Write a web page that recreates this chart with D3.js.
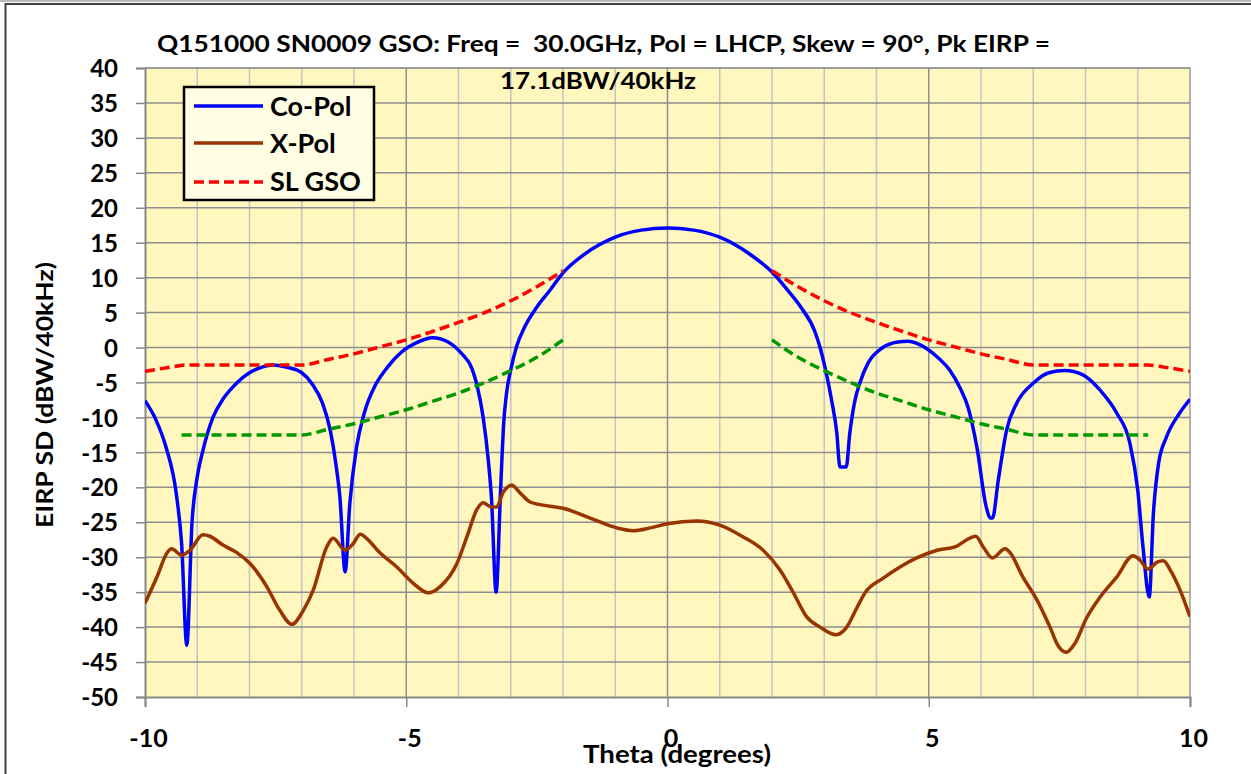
<!DOCTYPE html>
<html>
<head>
<meta charset="utf-8">
<script src="https://cdn.jsdelivr.net/npm/d3@7"></script>
<style>
  html, body { margin: 0; padding: 0; background: #ffffff; }
  svg { display: block; }
  text { font-family: Lato, "Open Sans", "DejaVu Sans", sans-serif; font-weight: bold; fill: #000; }
</style>
</head>
<body>
<svg id="chart" width="1251" height="774"></svg>
<script>
// ---------------- DATA ----------------
const titleLine1 = "Q151000 SN0009 GSO: Freq =  30.0GHz, Pol = LHCP, Skew = 90°, Pk EIRP =";
const titleLine2 = "17.1dBW/40kHz";
const xAxisTitle = "Theta (degrees)";
const yAxisTitle = "EIRP SD (dBW/40kHz)";
const seriesNames = ["Co-Pol", "X-Pol", "SL GSO"];

const xTicks = [-10, -5, 0, 5, 10];
const yTicks = [-50, -45, -40, -35, -30, -25, -20, -15, -10, -5, 0, 5, 10, 15, 20, 25, 30, 35, 40];

const coPolTheta = [-10, -9.8, -9.6, -9.4, -9.3, -9.2, -9.1, -9.0, -8.9, -8.7, -8.5, -8.3, -8.0, -7.8, -7.55, -7.3, -7.0, -6.8, -6.6, -6.45, -6.35, -6.27, -6.17, -6.08, -5.95, -5.8, -5.6, -5.4, -5.1, -4.8, -4.5, -4.2, -3.9, -3.78, -3.64, -3.53, -3.43, -3.37, -3.28, -3.2, -3.17, -3.14, -3.08, -3.0, -2.89, -2.73, -2.5, -2.25, -2.0, -1.6, -1.0, -0.5, 0, 0.5, 1.0, 1.55, 2.0, 2.3, 2.55, 2.82, 2.92, 3.01, 3.14, 3.24, 3.3, 3.42, 3.49, 3.59, 3.68, 3.84, 4.1, 4.41, 4.6, 4.95, 5.2, 5.4, 5.6, 5.75, 5.92, 6.1, 6.18, 6.22, 6.33, 6.49, 6.68, 7.0, 7.3, 7.6, 7.95, 8.28, 8.6, 8.85, 9.0, 9.1, 9.22, 9.3, 9.4, 9.55, 9.8, 10.0];
const coPol      = [-7.6, -10.2, -14.2, -21.0, -28.0, -42.6, -25.0, -18.5, -15.0, -10.0, -7.3, -5.5, -3.6, -2.9, -2.5, -2.8, -3.6, -5.2, -8.0, -12.0, -16.5, -21.4, -32.1, -22.3, -14.2, -9.3, -5.5, -3.2, -0.7, 0.7, 1.4, 0.8, -1.2, -2.4, -5.6, -9.9, -16.1, -21.4, -35.0, -21.4, -16.1, -11.4, -6.5, -3.2, 0.1, 3.0, 5.8, 8.2, 10.7, 13.3, 15.8, 16.8, 17.1, 16.8, 15.8, 13.5, 10.8, 8.2, 5.8, 2.3, 0.0, -2.7, -7.5, -12.2, -17.1, -17.1, -12.2, -7.5, -5.1, -2.2, -0.1, 0.8, 0.9, -0.1, -1.6, -3.2, -5.8, -8.5, -14.2, -22.8, -24.4, -24.4, -19.0, -11.8, -8.0, -5.1, -3.6, -3.3, -3.9, -6.1, -9.4, -13.7, -20.4, -28.5, -35.7, -23.7, -16.5, -12.8, -9.4, -7.4];

const xPolTheta = [-10, -9.77, -9.58, -9.49, -9.3, -9.14, -8.89, -8.76, -8.5, -8.25, -7.99, -7.67, -7.42, -7.19, -6.97, -6.78, -6.52, -6.4, -6.17, -6.01, -5.88, -5.76, -5.5, -5.18, -4.87, -4.58, -4.35, -4.03, -3.84, -3.65, -3.53, -3.37, -3.27, -3.15, -2.98, -2.82, -2.63, -2.25, -2.0, -1.48, -0.97, -0.66, -0.33, 0, 0.56, 1.0, 1.45, 1.83, 2.15, 2.41, 2.66, 2.92, 3.22, 3.43, 3.62, 3.78, 4.13, 4.45, 4.77, 5.16, 5.54, 5.73, 5.9, 6.04, 6.22, 6.46, 6.55, 6.8, 7.07, 7.32, 7.47, 7.63, 7.8, 8.02, 8.28, 8.6, 8.91, 9.04, 9.2, 9.37, 9.49, 9.62, 9.81, 10.0];
const xPol      = [-36.6, -32.8, -29.4, -28.8, -29.7, -29.0, -26.8, -27.0, -28.3, -29.3, -30.9, -34.2, -37.6, -39.6, -37.6, -34.7, -28.5, -27.3, -29.0, -28.0, -26.7, -27.3, -29.4, -31.4, -33.7, -35.1, -34.2, -30.9, -27.1, -23.2, -22.2, -22.8, -22.8, -20.8, -19.7, -20.8, -22.1, -22.7, -23.0, -24.4, -25.8, -26.2, -25.8, -25.2, -24.8, -25.4, -27.1, -29.0, -31.8, -35.1, -38.5, -40.0, -41.1, -40.0, -37.3, -35.1, -33.0, -31.4, -30.1, -29.0, -28.4, -27.5, -27.0, -28.5, -30.1, -28.8, -29.3, -32.8, -36.1, -40.0, -42.6, -43.6, -42.3, -38.7, -35.7, -32.8, -29.8, -30.4, -31.7, -30.7, -30.5, -31.8, -34.7, -38.5];

const slLeftTheta  = [-10, -9.5, -9.2, -9.0, -8.0, -7.0, -6.5, -6.0, -5.5, -5.0, -4.5, -4.0, -3.5, -3.0, -2.5, -2.0];
const slLeft       = [-3.4, -2.8, -2.5, -2.5, -2.5, -2.5, -1.7, -0.9, 0.1, 1.1, 2.3, 3.6, 5.0, 6.7, 8.7, 11.0];
const slRightTheta = [2.0, 2.5, 3.0, 3.5, 4.0, 4.5, 5.0, 5.5, 6.0, 6.5, 7.0, 8.0, 9.0, 9.2, 9.5, 10];
const slRight      = [11.0, 8.7, 6.7, 5.0, 3.6, 2.3, 1.1, 0.1, -0.9, -1.7, -2.5, -2.5, -2.5, -2.5, -2.8, -3.4];

const slLowLeftTheta  = [-9.3, -8.0, -7.0, -6.5, -6.0, -5.5, -5.0, -4.5, -4.0, -3.5, -3.0, -2.5, -2.0];
const slLowLeft       = [-12.5, -12.5, -12.5, -11.7, -10.9, -9.9, -8.9, -7.7, -6.5, -5.0, -3.3, -1.4, 1.1];
const slLowRightTheta = [2.0, 2.5, 3.0, 3.5, 4.0, 4.5, 5.0, 5.5, 6.0, 6.5, 7.0, 8.0, 9.2];
const slLowRight      = [1.1, -1.4, -3.3, -5.0, -6.5, -7.7, -8.9, -9.9, -10.9, -11.7, -12.5, -12.5, -12.5];

// ---------------- LAYOUT ----------------
const svg = d3.select("#chart");
const W = 1251, H = 774;
const plot = { left: 145, right: 1190, top: 68, bottom: 697 };

const x = d3.scaleLinear().domain([-10, 10]).range([plot.left, plot.right]);
const y = d3.scaleLinear().domain([-50, 40]).range([plot.bottom, plot.top]);

// outer frame
svg.append("rect").attr("x", 0).attr("y", 0).attr("width", W).attr("height", H).attr("fill", "#fff");
svg.append("line").attr("x1", 0).attr("x2", W).attr("y1", 1).attr("y2", 1)
  .attr("stroke", "#a0a0a0").attr("stroke-width", 1.5);
svg.append("path").attr("d", `M5.5,${H + 2} V4 H${W + 2}`)
  .attr("fill", "none").attr("stroke", "#404040").attr("stroke-width", 2);

// plot background
svg.append("rect").attr("x", plot.left).attr("y", plot.top)
  .attr("width", plot.right - plot.left).attr("height", plot.bottom - plot.top)
  .attr("fill", "#fff7bd");

// minor vertical gridlines
const minorX = d3.range(-9, 10, 1).filter(v => v % 5 !== 0);
svg.append("g").selectAll("line").data(minorX).join("line")
  .attr("x1", d => x(d)).attr("x2", d => x(d))
  .attr("y1", plot.top).attr("y2", plot.bottom)
  .attr("stroke", "#c4c4c4").attr("stroke-width", 1.5);

// major vertical gridlines
svg.append("g").selectAll("line").data([-5, 0, 5]).join("line")
  .attr("x1", d => x(d)).attr("x2", d => x(d))
  .attr("y1", plot.top).attr("y2", plot.bottom)
  .attr("stroke", "#8e8e8e").attr("stroke-width", 1.5);

// horizontal gridlines
svg.append("g").selectAll("line").data(yTicks.filter(v => v !== -50)).join("line")
  .attr("x1", plot.left).attr("x2", plot.right)
  .attr("y1", d => y(d)).attr("y2", d => y(d))
  .attr("stroke", "#8e8e8e").attr("stroke-width", 1.5);

// plot border right/top
svg.append("path").attr("d", `M${plot.left},${plot.top} H${plot.right} V${plot.bottom}`)
  .attr("fill", "none").attr("stroke", "#999").attr("stroke-width", 1.5);

// axes
const fmt = d => String(d);
const yAxis = d3.axisLeft(y).tickValues(yTicks).tickFormat(fmt).tickSize(9).tickPadding(18);
const gy = svg.append("g").attr("transform", `translate(${plot.left},0)`).call(yAxis);
gy.select(".domain").attr("stroke", "#888").attr("stroke-width", 2);
gy.selectAll(".tick line").attr("stroke", "#888").attr("stroke-width", 1.5);
gy.selectAll(".tick text").attr("font-size", 24).attr("font-family", "Lato, sans-serif")
  .attr("font-weight", "bold").attr("fill", "#000").attr("dy", "0.36em");

const xAxis = d3.axisBottom(x).tickValues(xTicks).tickFormat(fmt).tickSize(10).tickPadding(22);
const gx = svg.append("g").attr("transform", `translate(0,${plot.bottom})`).call(xAxis);
gx.select(".domain").attr("stroke", "#888").attr("stroke-width", 2);
gx.selectAll(".tick line").attr("stroke", "#888").attr("stroke-width", 1.5);
gx.selectAll(".tick text").attr("font-size", 25).attr("font-family", "Lato, sans-serif")
  .attr("font-weight", "bold").attr("fill", "#000").attr("dx", 3).attr("dy", "0.7em");

// clip
svg.append("clipPath").attr("id", "clip").append("rect")
  .attr("x", plot.left).attr("y", plot.top - 4)
  .attr("width", plot.right - plot.left).attr("height", plot.bottom - plot.top + 8);

const line = d3.line().x(d => x(d[0])).y(d => y(d[1])).curve(d3.curveMonotoneX);
const zip = (a, b) => a.map((t, i) => [t, b[i]]);

const gLines = svg.append("g").attr("clip-path", "url(#clip)");
gLines.append("path").datum(zip(coPolTheta, coPol)).attr("d", line)
  .attr("fill", "none").attr("stroke", "#0000ff").attr("stroke-width", 3.5).attr("stroke-linejoin", "round");
gLines.append("path").datum(zip(xPolTheta, xPol)).attr("d", line)
  .attr("fill", "none").attr("stroke", "#993300").attr("stroke-width", 3.5).attr("stroke-linejoin", "round");
[[slLeftTheta, slLeft], [slRightTheta, slRight]].forEach(([t, v]) => {
  gLines.append("path").datum(zip(t, v)).attr("d", line)
    .attr("fill", "none").attr("stroke", "#ff0000").attr("stroke-width", 3.5)
    .attr("stroke-dasharray", "10,5");
});
[[slLowLeftTheta, slLowLeft], [slLowRightTheta, slLowRight]].forEach(([t, v]) => {
  gLines.append("path").datum(zip(t, v)).attr("d", line)
    .attr("fill", "none").attr("stroke", "#009900").attr("stroke-width", 3.5)
    .attr("stroke-dasharray", "10,5");
});

// titles
svg.append("text").attr("x", 157).attr("y", 52).attr("font-size", 22)
  .attr("textLength", 893).attr("lengthAdjust", "spacingAndGlyphs")
  .style("white-space", "pre").text(titleLine1);
svg.append("text").attr("x", 500).attr("y", 89).attr("font-size", 22)
  .attr("textLength", 196).attr("lengthAdjust", "spacingAndGlyphs").text(titleLine2);

svg.append("text").attr("x", 583).attr("y", 763).attr("font-size", 25)
  .attr("textLength", 188).attr("lengthAdjust", "spacingAndGlyphs").text(xAxisTitle);

svg.append("text").attr("transform", "translate(53,528) rotate(-90)")
  .attr("font-size", 23).attr("textLength", 266).attr("lengthAdjust", "spacingAndGlyphs")
  .text(yAxisTitle);

// legend
const legend = svg.append("g");
legend.append("rect").attr("x", 184).attr("y", 87).attr("width", 190).attr("height", 113)
  .attr("fill", "#fffde3").attr("stroke", "#000").attr("stroke-width", 2.5);
const legendStyles = [
  { color: "#0000ff", dash: null, ly: 106, ty: 116 },
  { color: "#993300", dash: null, ly: 143, ty: 153 },
  { color: "#ff0000", dash: "10,5", ly: 182, ty: 191 }
];
seriesNames.forEach((name, i) => {
  const s = legendStyles[i];
  const l = legend.append("line").attr("x1", 194).attr("x2", 263)
    .attr("y1", s.ly).attr("y2", s.ly).attr("stroke", s.color).attr("stroke-width", 3.5);
  if (s.dash) l.attr("stroke-dasharray", s.dash);
  legend.append("text").attr("x", 270).attr("y", s.ty).attr("font-size", 27).text(name);
});
</script>
</body>
</html>
